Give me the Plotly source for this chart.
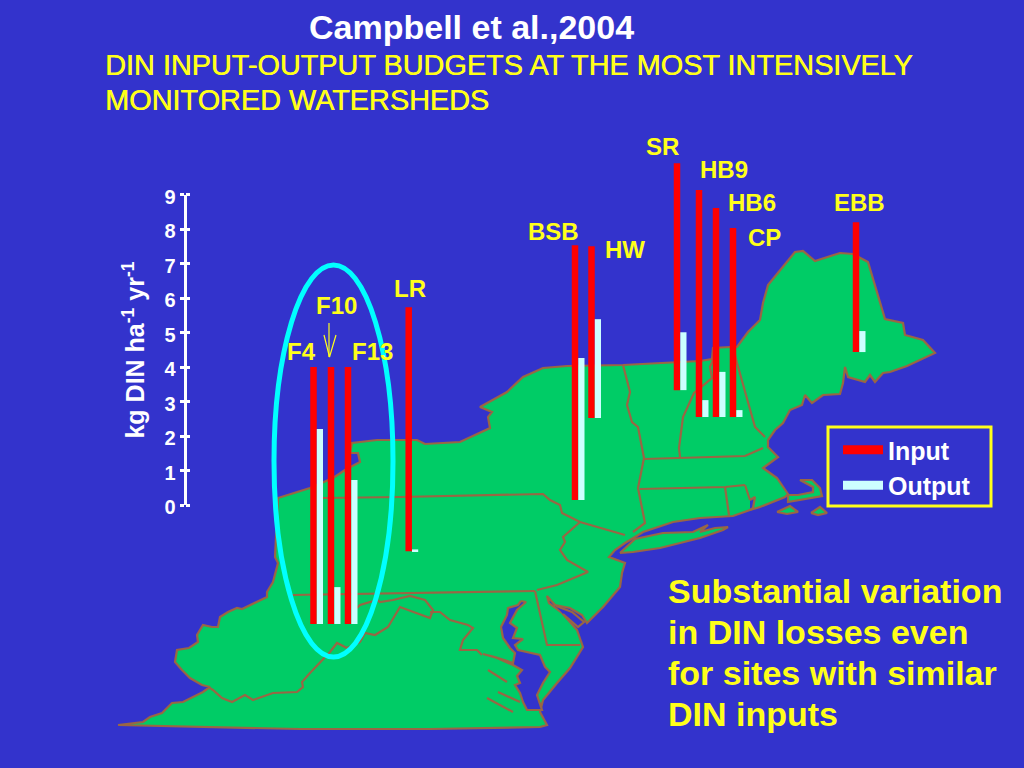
import plotly.graph_objects as go

# ---------- data ----------
sites = ["F4", "F10", "F13", "LR", "BSB", "HW", "SR", "HB9", "HB6", "CP", "EBB"]
site_x = [313.5, 331, 348, 408.7, 575, 591.5, 677, 699, 716, 733, 856]
# floating baseline of each pair of bars, on the kg scale
site_base = [-3.455, -3.455, -3.455, -1.34, 0.145, 2.525, 3.335, 2.555, 2.555, 2.555, 4.44]
din_input = [7.46, 7.46, 7.46, 7.08, 7.40, 4.99, 6.59, 6.59, 6.07, 5.49, 3.77]
din_output = [5.66, 1.07, 4.18, 0.05, 4.12, 2.87, 1.68, 0.49, 1.31, 0.20, 0.61]
output_x = [319.9, 337.4, 354.4, 415.1, 581.4, 597.9, 683.4, 705.4, 722.4, 739.4, 862.4]

label_x = [301, 336, 372, 410, 553, 625, 662, 724, 752, 764, 859]
label_y = [351, 305, 351, 288, 231, 249, 146, 169, 202, 237, 202]

tick_vals = [0, 1, 2, 3, 4, 5, 6, 7, 8, 9]

# map outlines
land_x = [118,143,150,162,172,183,203,210,202,190,182,175,177,189,198,197,203,212,218,220,228,237,242,257,267,267,273,278,275,278,
          310,333,345,360,358,350,352,377,417,425,460,490,488,492,480,507,523,543,567,623,700,712,713,730,737,748,760,763,768,
          795,803,815,840,853,868,885,903,905,923,935,907,890,883,875,870,865,848,845,843,840,823,812,805,802,790,783,775,768,
          768,778,763,777,788,788,822,820,812,800,813,813,798,787,785,760,750,733,700,673,643,635,625,615,609,625,622,620,
          603,587,582,570,555,547,549,562,577,583,570,557,543,540,547,540,430,300,118]
land_y = [725,722,717,713,703,702,692,687,685,678,670,662,650,648,642,635,625,627,627,617,612,608,609,602,597,592,582,563,557,498,
          488,478,470,462,453,453,443,440,440,444,442,428,417,412,407,392,377,368,366,365,361,359,348,347,347,332,320,303,285,
          252,251,261,253,254,262,319,323,335,340,353,366,372,373,382,375,382,377,367,383,394,395,403,395,405,410,423,430,440,
          447,457,468,478,494,502,496,488,480,480,487,492,495,495,497,507,510,516,518,522,532,537,543,550,557,563,573,587,
          607,623,615,608,605,596,603,613,630,647,668,683,700,712,725,727,729,729,725]

bay_x = [521,526,517,510,517,513,523,515,518,540,545,550,543,537,542,527,523,520,515,520,517,522,513,497,483,495,513,515,510,503,501,507,508,518,521]
bay_y = [601,602,610,623,628,638,639,645,650,655,667,672,683,695,710,710,702,693,685,683,676,670,665,658,654,657,663,653,648,638,627,615,608,605,601]

delaware_bay_x = [556,572,584,578,563]
delaware_bay_y = [606,612,622,627,614]

long_island_x = [620,635,663,693,708,700,715,728,723,700,660,633,620]
long_island_y = [553,539,533,532,525,532,528,527,530,538,548,552,553]

vineyard_x = [777,790,798,787,777]
vineyard_y = [512,506,512,514,512]
nantucket_x = [811,820,827,818,811]
nantucket_y = [513,507,513,515,513]
ri_bay_x = [750,755,753,750]
ri_bay_y = [500,497,508,510]

border_x = [322,400,543,550,560,562,580,625,None,
            580,563,565,560,567,588,557,537,None,
            292,535,None,
            535,547,580,None,
            208,213,222,232,245,253,273,297,303,302,310,320,330,337,347,360,365,375,388,400,430,433,425,410,393,380,377,360,357,None,
            430,440,450,468,473,463,460,477,482,None,
            623,630,627,632,638,644,638,645,633,None,
            640,725,745,None,725,729,None,745,750,None,
            644,745,763,None,
            680,679,683,694,712,710,713,None,
            733,737,755,765,None,
            488,507,None,498,520,None,487,513]
border_y = [498,497,494,500,505,513,522,535,None,
            522,537,542,550,560,572,585,590,None,
            595,591,None,
            591,645,645,None,
            687,690,698,702,695,700,693,692,687,682,673,663,652,643,648,642,633,635,627,607,618,610,600,596,600,602,600,605,608,None,
            612,612,620,625,628,640,650,650,655,None,
            365,392,405,422,427,458,488,523,532,None,
            489,487,485,None,487,515,None,485,500,None,
            459,456,448,None,
            457,448,417,393,378,367,360,None,
            347,363,427,437,None,
            670,682,None,692,702,None,698,712]

arrow_x = [329,329,None,324,329.5,336]
arrow_y = [323,357,None,335,357,335]

# ---------- colours ----------
BG = "#3333CC"; GREEN = "#00CC66"; BROWN = "#996644"; RED = "#FF0000"
PALE = "#CCFFFF"; YELLOW = "#FFFF1A"; WHITE = "#FFFFFF"; CYAN = "#00FFFF"
FONT = "Liberation Sans"

fig = go.Figure()

def poly(xs, ys, fill):
    fig.add_trace(go.Scatter(x=xs, y=ys, mode="lines", fill="toself", fillcolor=fill,
                             line=dict(color=BROWN, width=2.2), showlegend=False, hoverinfo="skip"))

poly(land_x, land_y, GREEN)
poly(bay_x, bay_y, BG)
poly(delaware_bay_x, delaware_bay_y, BG)
poly(ri_bay_x, ri_bay_y, BG)
poly(long_island_x, long_island_y, GREEN)
poly(vineyard_x, vineyard_y, GREEN)
poly(nantucket_x, nantucket_y, GREEN)
fig.add_trace(go.Scatter(x=border_x, y=border_y, mode="lines", line=dict(color=BROWN, width=2.2),
                         showlegend=False, hoverinfo="skip"))
fig.add_trace(go.Scatter(x=arrow_x, y=arrow_y, mode="lines", line=dict(color=YELLOW, width=1.2),
                         showlegend=False, hoverinfo="skip"))

fig.add_trace(go.Bar(x=site_x, y=din_input, base=site_base, width=6.5, marker=dict(color=RED, line_width=0),
                     yaxis="y2", showlegend=False, name="Input", text=sites, hoverinfo="text+y", textposition="none"))
fig.add_trace(go.Bar(x=output_x, y=din_output, base=site_base, width=6.2, marker=dict(color=PALE, line_width=0),
                     yaxis="y2", showlegend=False, name="Output", text=sites, hoverinfo="text+y", textposition="none"))

# visible axis with ticks on both sides of the line, and the legend keys
fig.add_trace(go.Scatter(x=[None], y=[None], yaxis="y3", mode="lines", name="Input", line=dict(color=RED, width=9)))
fig.add_trace(go.Scatter(x=[None], y=[None], yaxis="y3", mode="lines", name="Output", line=dict(color=PALE, width=9)))
fig.add_trace(go.Scatter(x=[None], y=[None], yaxis="y4", mode="lines", showlegend=False))

ann = []
def text(s, x, y, size, color, bold=True, anchor="left", shadow=None):
    ann.append(dict(text=s, x=x, y=y, xref="x", yref="y", showarrow=False,
                    xanchor=anchor, yanchor="middle",
                    font=dict(family=FONT, size=size, color=color, weight=700 if bold else 400,
                              shadow=shadow or "none")))

text("Campbell et al.,2004", 307, 27, 34, WHITE)
text("DIN INPUT-OUTPUT BUDGETS AT THE MOST INTENSIVELY", 103, 65, 28.85, YELLOW, bold=False, shadow=f"0.5px 0 0 {YELLOW}")
text("MONITORED WATERSHEDS", 103, 100, 28.85, YELLOW, bold=False, shadow=f"0.5px 0 0 {YELLOW}")
for s, yy in zip(["Substantial variation", "in DIN losses even", "for sites with similar", "DIN inputs"], [591, 632, 673, 714]):
    text(s, 666, yy, 34, YELLOW)
for s, lx, ly in zip(sites, label_x, label_y):
    text(s, lx, ly, 24, YELLOW, anchor="center")

fig.update_layout(
    width=1024, height=768, margin=dict(l=0, r=0, t=0, b=0, autoexpand=False), autosize=False,
    paper_bgcolor=BG, plot_bgcolor="rgba(0,0,0,0)", barmode="overlay",
    font=dict(family=FONT, color=WHITE),
    xaxis=dict(range=[0, 1024], visible=False, domain=[0, 1], fixedrange=True),
    yaxis=dict(range=[768, 0], visible=False, domain=[0, 1], fixedrange=True),
    yaxis2=dict(range=[-7.637, 14.663], visible=False, overlaying="y", fixedrange=True),
    yaxis3=dict(range=[0, 9], domain=[0.3424, 0.7461], anchor="free", position=184.5/1024, side="left",
                tickvals=tick_vals, ticks="outside", ticklen=4, tickwidth=2.5, tickcolor=WHITE,
                showline=True, linecolor=WHITE, linewidth=3, showgrid=False, zeroline=False, fixedrange=True,
                tickfont=dict(family=FONT, size=20, color=WHITE, weight=700), ticklabelshift=2,
                title=dict(text="kg DIN ha<sup>-1</sup> yr<sup>-1</sup>", standoff=11,
                           font=dict(family=FONT, size=25, color=WHITE, weight=700))),
    yaxis4=dict(range=[0, 9], overlaying="y3", anchor="free", position=184.5/1024, side="right",
                tickvals=tick_vals, ticks="outside", ticklen=4, tickwidth=2.5, tickcolor=WHITE,
                showticklabels=False, showgrid=False, zeroline=False, showline=False, fixedrange=True),
    legend=dict(x=838/1024, y=1-427/768, xanchor="left", yanchor="top", bgcolor="rgba(0,0,0,0)",
                borderwidth=0, itemwidth=40, tracegroupgap=0,
                font=dict(family=FONT, size=25, color=WHITE, weight=700)),
    shapes=[dict(type="circle", xref="x", yref="y", x0=274, x1=393, y0=265, y1=657,
                 line=dict(color=CYAN, width=5)),
            dict(type="rect", xref="x", yref="y", x0=828, x1=991, y0=427, y1=506,
                 line=dict(color=YELLOW, width=3))],
    annotations=ann,
)

fig.write_html("out.html", config=dict(displayModeBar=False),
               post_script="document.body.style.margin='0';document.body.style.overflow='hidden';")
